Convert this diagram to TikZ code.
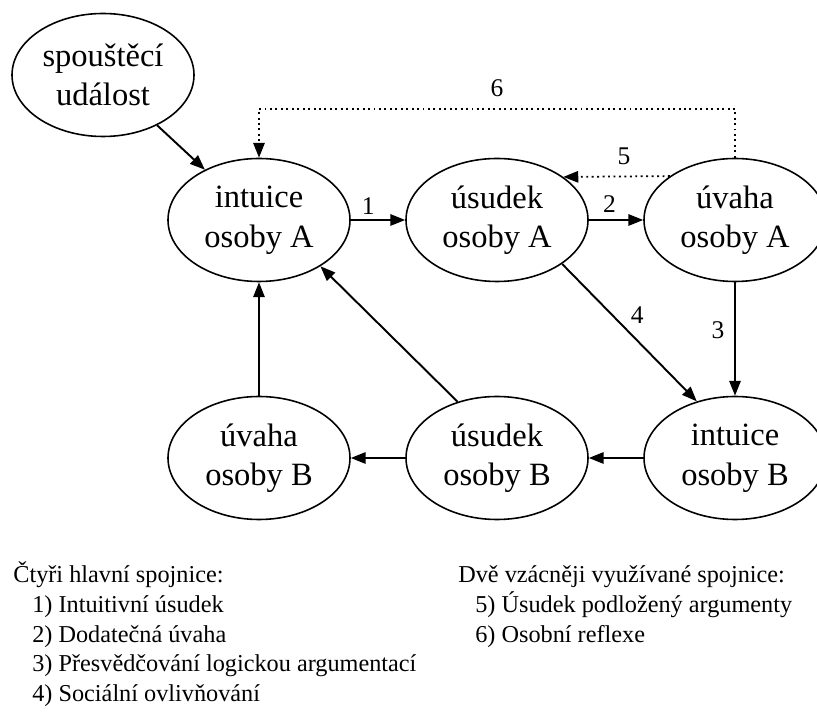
\documentclass[tikz,border=0pt]{standalone}
\usepackage{fontspec}
\setmainfont{Liberation Serif}
\usetikzlibrary{shapes.geometric,arrows.meta}

\begin{document}
\begin{tikzpicture}[
  stav/.style={draw, ellipse, line width=0.9pt, minimum width=3.64cm, minimum height=2.46cm, inner sep=0pt, align=center, font=\fontsize{18.5}{22.5}\selectfont},
  sipka/.style={-{Triangle[length=8.5pt,width=6.5pt]}, line width=1.1pt},
  tecky/.style={sipka, dotted, line width=1pt},
  cislo/.style={font=\fontsize{14.5}{16}\selectfont, inner sep=1.5pt},
  popis/.style={anchor=base west, inner sep=0pt, font=\fontsize{13.8}{16.5}\selectfont}]
\useasboundingbox (0,0) rectangle (16.34,14.26);

\node[stav] (sp) at (2.06,12.76) {spouštěcí\\událost};
\node[stav] (iA) at (5.18,9.86) {intuice\\osoby A};
\node[stav] (sA) at (9.94,9.86) {úsudek\\osoby A};
\node[stav] (vA) at (14.70,9.86) {úvaha\\osoby A};
\node[stav] (vB) at (5.18,5.10) {úvaha\\osoby B};
\node[stav] (sB) at (9.94,5.10) {úsudek\\osoby B};
\node[stav] (iB) at (14.70,5.10) {intuice\\osoby B};

\path[draw,sipka] (sp) -- (iA);
\path[draw,sipka] (iA) -- node[cislo,above=1.3pt,pos=0.32] {1} (sA);
\path[draw,sipka] (sA) -- node[cislo,above=2pt,pos=0.38] {2} (vA);
\path[draw,sipka] (vA) -- node[cislo,left=4pt,pos=0.42] {3} (iB);
\path[draw,sipka] (sA.-34) -- node[cislo,above right=1pt,pos=0.47] {4} (iB.124);
\path[draw,tecky] (vA.146.5) -- node[cislo,above=4.5pt,pos=0.43] {5} (sA.33.5);
\path[draw,tecky] (vA.north) -- ++(0,0.98) -| node[cislo,above=5pt,pos=0.25] {6} (iA.north);
\path[draw,sipka] (iB) -- (sB);
\path[draw,sipka] (sB) -- (vB);
\path[draw,sipka] (vB) -- (iA);
\path[draw,sipka] (sB.125) -- (iA.-37);

\node[popis] (h1) at (0.26,2.60) {Čtyři hlavní spojnice:};
\node[popis] (p1) at (0.64,2.01) {1) Intuitivní úsudek};
\node[popis] (p2) at (0.64,1.42) {2) Dodatečná úvaha};
\node[popis] (p3) at (0.64,0.83) {3) Přesvědčování logickou argumentací};
\node[popis] (p4) at (0.64,0.24) {4) Sociální ovlivňování};
\node[popis] (h2) at (9.16,2.60) {Dvě vzácněji využívané spojnice:};
\node[popis] (p5) at (9.50,2.01) {5) Úsudek podložený argumenty};
\node[popis] (p6) at (9.50,1.42) {6) Osobní reflexe};
\end{tikzpicture}
\end{document}
